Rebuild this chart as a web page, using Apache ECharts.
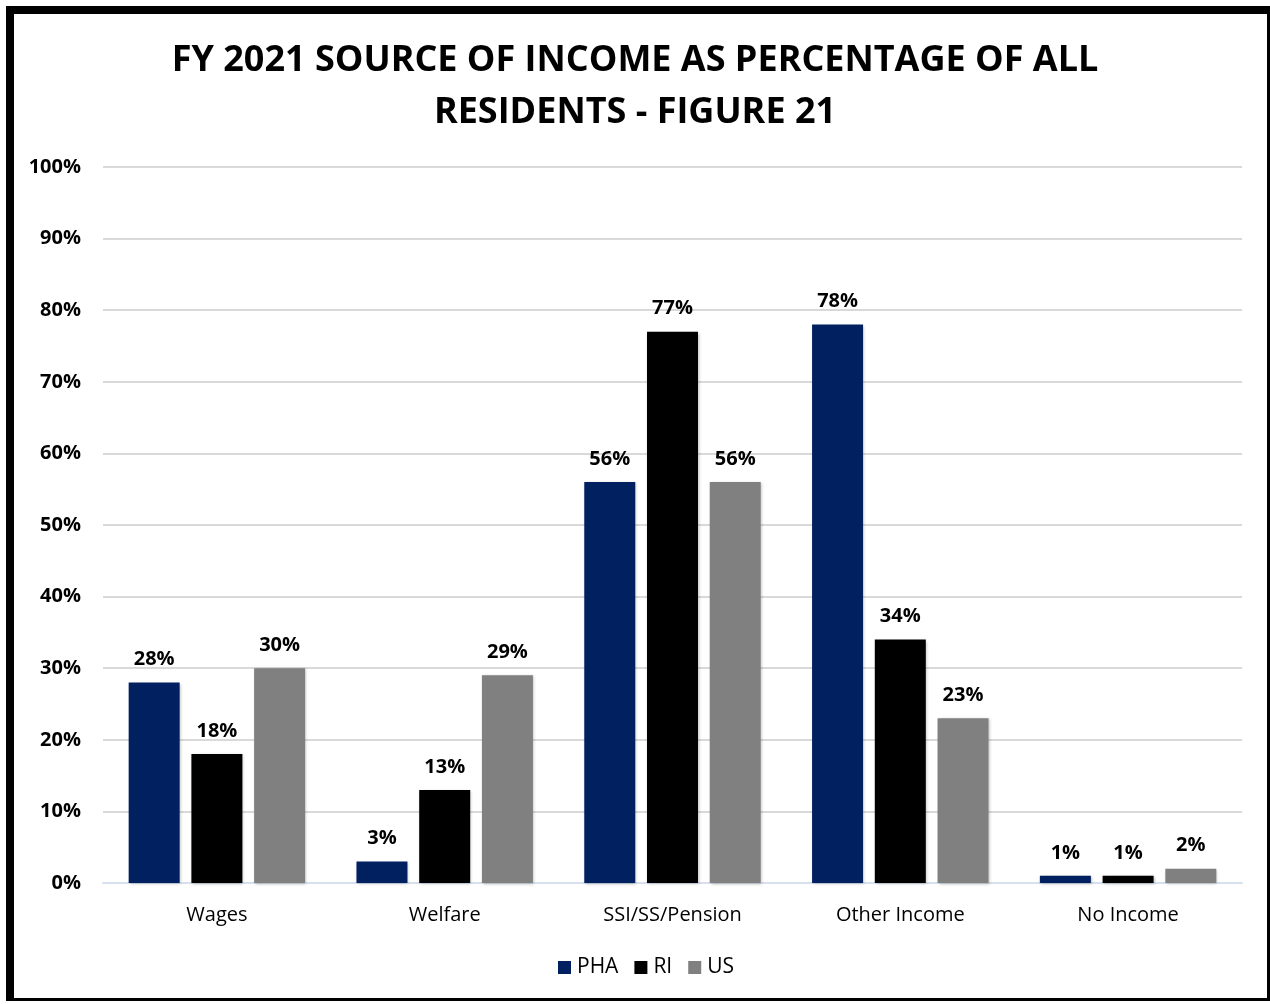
<!DOCTYPE html>
<html>
<head>
<meta charset="utf-8">
<script src="https://cdn.jsdelivr.net/npm/echarts@6/dist/echarts.min.js"></script>
<style>
  html, body { margin: 0; padding: 0; background: #fff; }
  #frame {
    position: absolute; left: 6px; top: 6px;
    width: 1253px; height: 984px;
    border-left: 8px solid #000; border-top: 8px solid #000;
    border-right: 3px solid #000; border-bottom: 3px solid #000;
    background: #fff;
  }
  #chart { position: absolute; left: 0; top: 0; width: 1270px; height: 1004px; }
</style>
</head>
<body>
<div id="frame"></div>
<div id="chart"></div>
<script>
// Source-of-income categories and percentages per group
const categories = ['Wages', 'Welfare', 'SSI/SS/Pension', 'Other Income', 'No Income'];
const phaValues = [28, 3, 56, 78, 1];
const riValues  = [18, 13, 77, 34, 1];
const usValues  = [30, 29, 56, 23, 2];
const seriesNames = ['PHA', 'RI', 'US'];
const seriesColors = ['#002060', '#000000', '#808080'];

const FONT = 'Open Sans';
const chart = echarts.init(document.getElementById('chart'), null, { renderer: 'canvas' });

const label = {
  show: true, position: 'top', distance: 13,
  formatter: p => p.value + '%',
  fontFamily: FONT, fontWeight: 'bold', fontSize: 20, color: '#000'
};

function makeSeries(name, data, color) {
  return {
    name, type: 'bar', data,
    barWidth: 51, barGap: '23%',
    itemStyle: { color, shadowColor: 'rgba(0,0,0,0.25)', shadowBlur: 3, shadowOffsetX: 1, shadowOffsetY: 1 },
    label
  };
}

chart.setOption({
  backgroundColor: 'transparent',
  animation: false,
  title: {
    text: 'FY 2021 SOURCE OF INCOME AS PERCENTAGE OF ALL\nRESIDENTS - FIGURE 21',
    left: 'center', top: 30,
    textStyle: { fontFamily: FONT, fontWeight: 'bold', fontSize: 36, color: '#000', lineHeight: 52 }
  },
  legend: {
    bottom: 21, left: 553,
    itemWidth: 13, itemHeight: 13, itemGap: 16,
    icon: 'rect',
    textStyle: { fontFamily: FONT, fontSize: 21, color: '#000', padding: [0, 0, 0, 1] },
    data: seriesNames
  },
  grid: { left: 103, right: 28, top: 167, bottom: 121, containLabel: false },
  xAxis: {
    type: 'category', data: categories,
    axisLine: { lineStyle: { color: '#d6e0ee', width: 2 } },
    axisTick: { show: false },
    axisLabel: { fontFamily: FONT, fontSize: 20, color: '#000', margin: 22 }
  },
  yAxis: {
    type: 'value', min: 0, max: 100, interval: 10,
    axisLine: { show: false }, axisTick: { show: false },
    splitLine: { lineStyle: { color: '#d9d9d9', width: 2 } },
    axisLabel: { formatter: '{value}%', fontFamily: FONT, fontWeight: 'bold', fontSize: 20, color: '#000', margin: 22 }
  },
  series: [
    makeSeries(seriesNames[0], phaValues, seriesColors[0]),
    makeSeries(seriesNames[1], riValues, seriesColors[1]),
    makeSeries(seriesNames[2], usValues, seriesColors[2])
  ]
});
</script>
</body>
</html>
